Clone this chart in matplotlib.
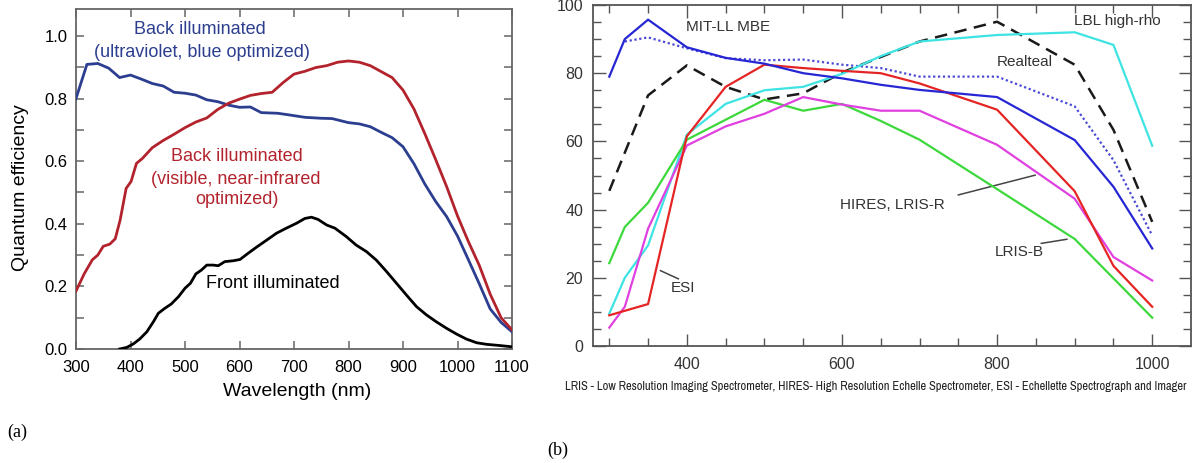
import numpy as np
import matplotlib
matplotlib.use("Agg")
import matplotlib.pyplot as plt
from matplotlib import font_manager
from matplotlib.ticker import MultipleLocator, FixedLocator

# ---------------- data: panel (a) CCD quantum efficiency ----------------
wl_uv = [300, 320, 340, 360, 380, 400, 420, 440, 460, 480, 500, 520, 540, 560,
         580, 600, 620, 640, 670, 690, 720, 750, 770, 800, 820, 840, 860, 880,
         900, 920, 940, 960, 980, 1000, 1020, 1040, 1060, 1080, 1100]
qe_uv = [0.800, 0.909, 0.912, 0.897, 0.867, 0.875, 0.862, 0.848, 0.840, 0.820,
         0.817, 0.811, 0.796, 0.790, 0.779, 0.772, 0.773, 0.755, 0.753, 0.748,
         0.740, 0.737, 0.736, 0.723, 0.719, 0.710, 0.692, 0.675, 0.646, 0.592,
         0.527, 0.471, 0.423, 0.361, 0.285, 0.208, 0.128, 0.085, 0.055]

wl_nir = [300, 315, 330, 340, 350, 362, 372, 381, 392, 401, 411, 422, 440, 460,
          480, 500, 520, 540, 560, 580, 600, 620, 640, 660, 680, 700, 720, 740,
          760, 780, 800, 820, 840, 860, 880, 900, 920, 940, 960, 980, 1000, 1020,
          1040, 1060, 1080, 1100]
qe_nir = [0.185, 0.240, 0.285, 0.300, 0.328, 0.335, 0.352, 0.412, 0.513, 0.535,
          0.593, 0.609, 0.643, 0.666, 0.686, 0.707, 0.725, 0.738, 0.765, 0.785,
          0.798, 0.810, 0.816, 0.820, 0.851, 0.878, 0.887, 0.899, 0.905, 0.916,
          0.920, 0.916, 0.905, 0.886, 0.867, 0.827, 0.767, 0.688, 0.605, 0.519,
          0.425, 0.343, 0.267, 0.175, 0.100, 0.061]

wl_front = [380, 393, 405, 417, 430, 442, 451, 463, 475, 488, 500, 510, 520, 530,
            540, 552, 561, 573, 589, 601, 616, 631, 650, 668, 686, 705, 720, 732,
            744, 760, 775, 796, 814, 833, 851, 870, 888, 906, 925, 943, 961, 980,
            998, 1016, 1035, 1053, 1078, 1100]
qe_front = [0.000, 0.005, 0.016, 0.032, 0.055, 0.087, 0.114, 0.130, 0.144, 0.167,
            0.194, 0.210, 0.240, 0.252, 0.268, 0.268, 0.266, 0.279, 0.282, 0.286,
            0.306, 0.325, 0.348, 0.370, 0.386, 0.402, 0.417, 0.421, 0.414, 0.396,
            0.386, 0.359, 0.332, 0.311, 0.284, 0.247, 0.210, 0.173, 0.135, 0.109,
            0.087, 0.066, 0.048, 0.032, 0.020, 0.015, 0.011, 0.007]

# ---------------- data: panel (b) detector QE (%) ----------------
mbe_wl = [300, 320, 350, 400, 450, 500, 550, 600, 650, 700, 800, 900, 950, 1000]
mbe_qe = [79.0, 90.0, 95.7, 87.6, 84.5, 82.8, 80.0, 78.5, 76.6, 75.1, 73.0, 60.4, 46.7, 28.6]

mbe2_wl = [320, 350, 400, 450, 500, 550, 600, 650, 700, 800, 900, 950, 1000]
mbe2_qe = [89.3, 90.5, 87.3, 84.4, 83.8, 84.0, 82.5, 81.5, 79.0, 79.0, 70.3, 54.5, 32.4]

realteal_wl = [300, 350, 400, 450, 500, 550, 600, 700, 800, 900, 950, 1000]
realteal_qe = [45.5, 73.5, 82.3, 76.0, 72.3, 74.1, 80.2, 89.3, 95.1, 82.5, 63.4, 36.4]

lbl_wl = [300, 320, 350, 400, 450, 500, 550, 600, 650, 700, 800, 900, 950, 1000]
lbl_qe = [9.5, 20.0, 29.5, 62.0, 71.0, 75.0, 76.0, 79.8, 85.0, 89.3, 91.2, 92.0, 88.3, 58.7]

esi_wl = [300, 350, 400, 450, 500, 550, 600, 650, 700, 800, 900, 950, 1000]
esi_qe = [9.0, 12.3, 61.5, 76.0, 82.5, 81.5, 80.7, 80.0, 77.0, 69.3, 45.4, 23.5, 11.5]

lrisb_wl = [300, 320, 350, 400, 500, 550, 600, 650, 700, 800, 900, 1000]
lrisb_qe = [24.3, 34.9, 42.0, 60.5, 72.2, 69.0, 71.0, 66.0, 60.5, 46.0, 31.4, 8.3]

hires_wl = [300, 320, 350, 400, 450, 500, 550, 600, 650, 700, 800, 900, 950, 1000]
hires_qe = [5.4, 11.5, 34.4, 58.8, 64.4, 68.1, 73.0, 70.8, 69.0, 69.0, 59.0, 43.2, 26.1, 19.2]

caption_b = ("LRIS - Low Resolution Imaging Spectrometer, HIRES- High Resolution Echelle "
             "Spectrometer, ESI - Echellette Spectrograph and Imager")

# ---------------- fonts ----------------
installed = sorted({f.name for f in font_manager.fontManager.ttflist})
SANS = "Liberation Sans" if "Liberation Sans" in installed else "DejaVu Sans"
narrow_faces = [n for n in installed if "Narrow" in n or "Condensed" in n]
NARROW = narrow_faces[0] if narrow_faces else SANS
SERIF = "Liberation Serif" if "Liberation Serif" in installed else "DejaVu Serif"
plt.rcParams["font.family"] = SANS

W, H = 1204, 463
fig = plt.figure(figsize=(W / 100, H / 100), dpi=100)
fig.patch.set_facecolor("white")


def px(x, y):
    """Figure fraction from pixel position measured from the top-left."""
    return x / W, 1 - y / H


# ================= panel (a) =================
axa = fig.add_axes([76 / W, (H - 349) / H, 436 / W, 340 / H])
BLUE_A = "#2c3e8f"
RED_A = "#b3232d"

axa.plot(wl_front, qe_front, color="black", lw=2.0, solid_joinstyle="round", zorder=3)
axa.plot(wl_uv, qe_uv, color=BLUE_A, lw=2.0, solid_joinstyle="round", zorder=4)
axa.plot(wl_nir, qe_nir, color=RED_A, lw=2.0, solid_joinstyle="round", zorder=4)

axa.set_xlim(300, 1100)
axa.set_ylim(0, 1.086)
axa.xaxis.set_major_locator(MultipleLocator(100))
axa.yaxis.set_major_locator(FixedLocator([0, 0.2, 0.4, 0.6, 0.8, 1.0]))
axa.yaxis.set_minor_locator(FixedLocator([0.1, 0.3, 0.5, 0.7, 0.9]))
axa.set_yticklabels(["0.0", "0.2", "0.4", "0.6", "0.8", "1.0"])
axa.tick_params(which="both", direction="in", top=True, right=True,
                length=6, width=1.1, color="#666666", labelsize=12)
axa.tick_params(axis="y", pad=6)
axa.tick_params(axis="x", pad=8)
for s in axa.spines.values():
    s.set_color("#666666")
    s.set_linewidth(1.3)

ann_a = dict(ha="center", va="center", fontsize=13)
axa.text(527, 1.021, "Back illuminated", color=BLUE_A, **ann_a)
axa.text(531, 0.948, "(ultraviolet, blue optimized)", color=BLUE_A, **ann_a)
axa.text(595, 0.614, "Back illuminated", color=RED_A, **ann_a)
axa.text(593, 0.543, "(visible, near-infrared", color=RED_A, **ann_a)
axa.text(595, 0.476, "optimized)", color=RED_A, **ann_a)
axa.text(662, 0.208, "Front illuminated", color="black", **ann_a)

fig.text(*px(21, 188), "Quantum efficiency", rotation=90, ha="center", va="center", fontsize=14)
fig.text(*px(297, 391), "Wavelength (nm)", ha="center", va="center", fontsize=14)

# ================= panel (b) =================
axb = fig.add_axes([593 / W, (H - 346) / H, 598 / W, 341 / H])

axb.plot(realteal_wl, realteal_qe, color="#1a1a1a", lw=1.8, ls=(0, (5, 3)), zorder=3)
axb.plot(mbe2_wl, mbe2_qe, color="#4a4ad6", lw=1.6, ls=(0, (1, 1.2)), zorder=3)
axb.plot(lbl_wl, lbl_qe, color="#3ee3e3", lw=1.6, zorder=3)
axb.plot(lrisb_wl, lrisb_qe, color="#3cd83c", lw=1.6, zorder=3)
axb.plot(hires_wl, hires_qe, color="#e040e0", lw=1.6, zorder=3)
axb.plot(esi_wl, esi_qe, color="#e52424", lw=1.6, zorder=4)
axb.plot(mbe_wl, mbe_qe, color="#2626d4", lw=1.6, zorder=4)

axb.set_xlim(279, 1050)
axb.set_ylim(0, 100)
axb.xaxis.set_major_locator(FixedLocator([400, 600, 800, 1000]))
axb.xaxis.set_minor_locator(FixedLocator([300, 350, 450, 500, 550, 650, 700, 750, 850, 900, 950]))
axb.yaxis.set_major_locator(MultipleLocator(20))
axb.yaxis.set_minor_locator(MultipleLocator(5))
axb.tick_params(which="both", direction="in", top=True, right=True,
                color="#555555", width=1.0, labelsize=11.5, labelcolor="#333333")
axb.tick_params(which="major", length=9)
axb.tick_params(which="minor", length=5.5)
axb.tick_params(axis="y", pad=7)
axb.tick_params(axis="x", pad=8)
for s in axb.spines.values():
    s.set_color("#555555")
    s.set_linewidth(1.3)

ann_b = dict(ha="center", va="center", fontsize=11, color="#333333")
axb.text(453, 93.5, "MIT-LL MBE", **ann_b)
axb.text(955, 95.4, "LBL high-rho", **ann_b)
axb.text(836, 83.4, "Realteal", **ann_b)
axb.text(665, 41.3, "HIRES, LRIS-R", **ann_b)
axb.text(828, 27.6, "LRIS-B", **ann_b)
axb.text(395, 17.0, "ESI", **ann_b)

lead = dict(color="#444444", lw=1.1)
axb.plot([366, 389], [22.1, 19.7], **lead)
axb.plot([750, 849], [44.3, 50.1], **lead)
axb.plot([857, 890], [30.1, 31.3], **lead)

# caption under panel (b), sized so it spans the same width as the plot row
cap = fig.text(*px(876, 386), caption_b, ha="center", va="center",
               fontsize=8.4, family=NARROW, color="#222222")
renderer = fig.canvas.get_renderer()
cap_w = cap.get_window_extent(renderer).width
cap.set_fontsize(8.4 * 628 / cap_w)

# ---------------- sub-figure letters ----------------
fig.text(*px(17, 432), "(a)", ha="center", va="center", fontsize=13, family=SERIF)
fig.text(*px(558, 450), "(b)", ha="center", va="center", fontsize=13, family=SERIF)

fig.savefig("out.png", dpi=100, facecolor="white")
